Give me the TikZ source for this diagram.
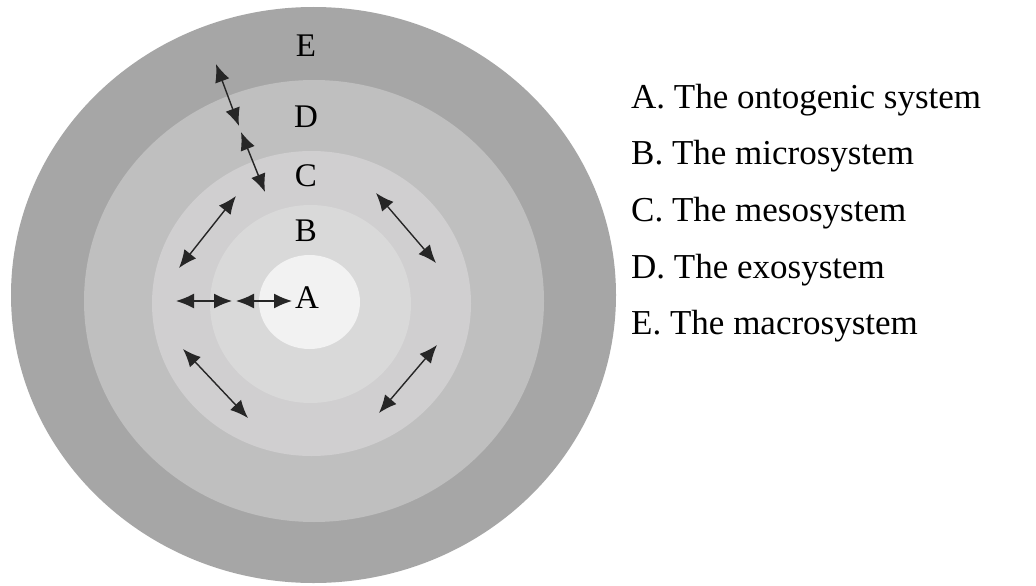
\documentclass[tikz,border=0pt]{standalone}
\usepackage{fontspec}
\setmainfont{Liberation Serif}
\usetikzlibrary{arrows.meta}
\definecolor{ringE}{HTML}{A6A6A6}
\definecolor{ringD}{HTML}{BFBFBF}
\definecolor{ringC}{HTML}{D0CFD0}
\definecolor{ringB}{HTML}{D9D9D9}
\definecolor{ringA}{HTML}{F2F2F2}
\definecolor{arrowcol}{HTML}{262626}
\begin{document}
\begin{tikzpicture}[x=1pt,y=-1pt,
  ringlabel/.style={anchor=base, inner sep=0pt, font=\fontsize{33}{33}\selectfont},
  legend/.style={anchor=base west, inner sep=0pt, font=\fontsize{35}{35}\selectfont},
  link/.style={{Latex[length=18pt,width=15pt]}-{Latex[length=18pt,width=15pt]}, line width=1.4pt, draw=arrowcol}]
\useasboundingbox (0,0) rectangle (1036,586);
\fill[white] (0,0) rectangle (1036,586);
% rings
\fill[ringE] (313.5,295) ellipse [x radius=302.5pt, y radius=288pt];
\fill[ringD] (314,301) ellipse [x radius=230pt, y radius=221pt];
\fill[ringC] (311.5,303.5) ellipse [x radius=159.5pt, y radius=152.5pt];
\fill[ringB] (310.5,304) ellipse [x radius=100.5pt, y radius=99pt];
\fill[ringA] (309.5,302) ellipse [x radius=50.5pt, y radius=47pt];
% ring labels
\node[ringlabel] (lE) at (306,56.5) {E};
\node[ringlabel] (lD) at (306,127.5) {D};
\node[ringlabel] (lC) at (306,186.5) {C};
\node[ringlabel] (lB) at (306,241) {B};
\node[ringlabel] (lA) at (307,308) {A};
% legend
\node[legend] (gA) at (631,108.5) {A. The ontogenic system};
\node[legend] (gB) at (631,164.5) {B. The microsystem};
\node[legend] (gC) at (631,221.5) {C. The mesosystem};
\node[legend] (gD) at (631,278.5) {D. The exosystem};
\node[legend] (gE) at (631,334.5) {E. The macrosystem};
% arrow end points
\coordinate (a1s) at (216,64);
\coordinate (a1e) at (239,126);
\coordinate (a2s) at (241,132);
\coordinate (a2e) at (265,192);
\coordinate (a3s) at (236,196);
\coordinate (a3e) at (179,268);
\coordinate (a4s) at (176,301);
\coordinate (a4e) at (232,301);
\coordinate (a5s) at (236,301);
\coordinate (a5e) at (292,301);
\coordinate (a6s) at (183,349);
\coordinate (a6e) at (248,418);
\coordinate (a7s) at (376,193);
\coordinate (a7e) at (436,263);
\coordinate (a8s) at (437,345);
\coordinate (a8e) at (379,413);
\draw[link] (a1s) -- (a1e);
\draw[link] (a2s) -- (a2e);
\draw[link] (a3s) -- (a3e);
\draw[link] (a4s) -- (a4e);
\draw[link] (a5s) -- (a5e);
\draw[link] (a6s) -- (a6e);
\draw[link] (a7s) -- (a7e);
\draw[link] (a8s) -- (a8e);
\end{tikzpicture}
\end{document}
